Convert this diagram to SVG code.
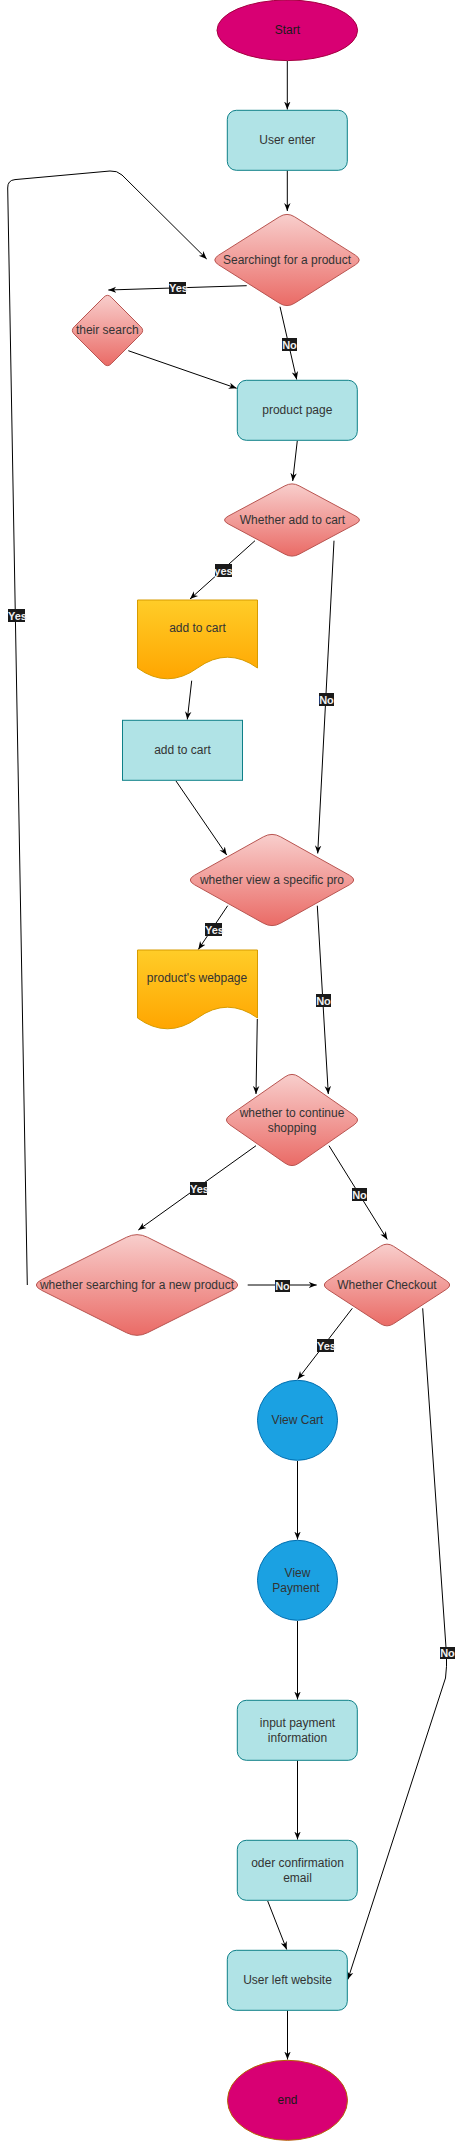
<svg xmlns="http://www.w3.org/2000/svg" xmlns:xlink="http://www.w3.org/1999/xlink" width="459" height="2142" viewBox="0 0 459 2142">
<style>
.t{font-family:"Liberation Sans",Arial,sans-serif;font-size:12px;fill:#333333;text-anchor:middle;dominant-baseline:central}
.td{fill:#1a1a1a}
.lb{fill:#1a1a1a}
.lt{font-family:"Liberation Sans",Arial,sans-serif;font-size:11px;font-weight:bold;fill:#f0f0f0;text-anchor:middle;dominant-baseline:central}
.ln{fill:none;stroke:#000;stroke-width:1}
.arr{marker-end:url(#ah)}
.proc{fill:#b0e3e6;stroke:#0e8088;stroke-width:1}
.doc{fill:url(#gy);stroke:#d79b00;stroke-width:1}
.circ{fill:#1ba1e2;stroke:#006eaf;stroke-width:1}
</style>
<defs>
<linearGradient id="gr" x1="0" y1="0" x2="0" y2="1"><stop offset="0" stop-color="#f8cecc"/><stop offset="1" stop-color="#ea6b66"/></linearGradient>
<linearGradient id="gy" x1="0" y1="0" x2="0" y2="1"><stop offset="0" stop-color="#ffcd28"/><stop offset="1" stop-color="#ffa500"/></linearGradient>
<path id="dia" d="M0.1,-0.9 L0.9,-0.1 Q1,0 0.9,0.1 L0.1,0.9 Q0,1 -0.1,0.9 L-0.9,0.1 Q-1,0 -0.9,-0.1 L-0.1,-0.9 Q0,-1 0.1,-0.9 Z" fill="url(#gr)" stroke="#b85450" stroke-width="1" vector-effect="non-scaling-stroke"/>
<marker id="ah" viewBox="0 0 10 10" refX="10" refY="5" markerWidth="8" markerHeight="8" markerUnits="userSpaceOnUse" orient="auto"><path d="M0,1 L10,5 L0,9 L3,5 Z" fill="#000"/></marker>
</defs>

<g id="connectors">
<path class="ln arr" d="M287.3,61 L287.3,109.5"/>
<path class="ln arr" d="M287.3,170.5 L287.3,211"/>
<path class="ln arr" d="M27.3,1285 L7.7,188 Q7.5,180.3 15,179.6 L110,171 Q117,170.4 122,175 L206.7,259"/>
<path class="ln arr" d="M246.7,285.7 L108.3,290"/>
<path class="ln arr" d="M280,306.7 L296.7,379.5"/>
<path class="ln arr" d="M128.3,350.7 L236.7,388.3"/>
<path class="ln arr" d="M297.3,440.7 L292.7,481"/>
<path class="ln arr" d="M255,540.7 L190,599"/>
<path class="ln arr" d="M334,540.7 L317.7,853.5"/>
<path class="ln arr" d="M191.7,680.7 L187.3,719.5"/>
<path class="ln arr" d="M176,781 L226.7,855"/>
<path class="ln arr" d="M227.7,905.7 L198.3,949.5"/>
<path class="ln arr" d="M317.3,905.7 L328.3,1094"/>
<path class="ln arr" d="M257.3,1019 L256,1094"/>
<path class="ln arr" d="M256,1145.7 L138.3,1230"/>
<path class="ln arr" d="M329,1145.7 L387.3,1239.5"/>
<path class="ln arr" d="M247.7,1285 L316.7,1285"/>
<path class="ln arr" d="M352.3,1308.3 L297.7,1379.3"/>
<path class="ln arr" d="M422.7,1308.3 L446.5,1655 Q447,1666 445.5,1678 L347.8,1979.5"/>
<path class="ln arr" d="M297.5,1461 L297.5,1539.5"/>
<path class="ln arr" d="M297.5,1621 L297.5,1699.5"/>
<path class="ln arr" d="M297.5,1760.5 L297.5,1839.5"/>
<path class="ln arr" d="M267.7,1901 L286.7,1949.5"/>
<path class="ln arr" d="M287.5,2010.5 L287.5,2059.5"/>
<g id="labels">
<rect class="lb" x="8" y="609" width="17" height="13"/><text class="lt" x="17.5" y="615.5">Yes</text>
<rect class="lb" x="169" y="282" width="17" height="12"/><text class="lt" x="178.5" y="288">Yes</text>
<rect class="lb" x="282" y="338" width="15" height="13"/><text class="lt" x="289.5" y="344.5">No</text>
<rect class="lb" x="215" y="564" width="17" height="13"/><text class="lt" x="223.5" y="570.5">yes</text>
<rect class="lb" x="319" y="693" width="15" height="13"/><text class="lt" x="326.5" y="699.5">No</text>
<rect class="lb" x="205" y="923" width="17" height="13"/><text class="lt" x="214.5" y="929.5">Yes</text>
<rect class="lb" x="316" y="994" width="15" height="13"/><text class="lt" x="323.5" y="1000.5">No</text>
<rect class="lb" x="190" y="1182" width="17" height="13"/><text class="lt" x="199.5" y="1188.5">Yes</text>
<rect class="lb" x="352" y="1188" width="15" height="13"/><text class="lt" x="359.5" y="1194.5">No</text>
<rect class="lb" x="275" y="1280" width="15" height="12"/><text class="lt" x="282.5" y="1286">No</text>
<rect class="lb" x="317" y="1339" width="17" height="13"/><text class="lt" x="326.5" y="1345.5">Yes</text>
<rect class="lb" x="440" y="1647" width="15" height="12"/><text class="lt" x="447.5" y="1653">No</text>
</g>
</g>

<g id="start"><ellipse cx="287.3" cy="30.3" rx="70.3" ry="30.3" fill="#d80073" stroke="#a50040"/><text class="t td" x="287.3" y="30">Start</text></g>
<g id="user-enter"><rect class="proc" x="227.3" y="110.3" width="120" height="60" rx="9"/><text class="t" x="287.3" y="140">User enter</text></g>
<g id="searching"><use xlink:href="#dia" transform="translate(287,260) scale(76,48)"/><text class="t" x="287" y="260">Searchingt for a product</text></g>
<g id="their-search"><use xlink:href="#dia" transform="translate(107.5,330.5) scale(37,37)"/><text class="t" x="107.3" y="330">their search</text></g>
<g id="product-page"><rect class="proc" x="237.3" y="380.3" width="120" height="60" rx="9"/><text class="t" x="297.3" y="410">product page</text></g>
<g id="add-to-cart-q"><use xlink:href="#dia" transform="translate(292,520) scale(71,38)"/><text class="t" x="292.5" y="520">Whether add to cart</text></g>
<g id="add-to-cart-doc"><path class="doc" d="M137.5,600 H257.5 V668 Q227.5,646.4 197.5,668 Q167.5,689.6 137.5,668 Z"/><text class="t" x="197.5" y="627.5">add to cart</text></g>
<g id="add-to-cart-rect"><rect class="proc" x="122.5" y="720.3" width="120" height="60"/><text class="t" x="182.5" y="750">add to cart</text></g>
<g id="view-specific"><use xlink:href="#dia" transform="translate(272,880) scale(86,48)"/><text class="t" x="272" y="880">whether view a specific pro</text></g>
<g id="product-webpage"><path class="doc" d="M137.5,950 H257.5 V1018 Q227.5,996.4 197.5,1018 Q167.5,1039.6 137.5,1018 Z"/><text class="t" x="197" y="977.7">product's webpage</text></g>
<g id="continue-shopping"><use xlink:href="#dia" transform="translate(292,1120) scale(69,48)"/><text class="t" x="292" y="1112.7">whether to continue</text><text class="t" x="292" y="1127.5">shopping</text></g>
<g id="new-product"><use xlink:href="#dia" transform="translate(137,1285) scale(106,53)"/><text class="t" x="137" y="1285">whether searching for a new product</text></g>
<g id="checkout"><use xlink:href="#dia" transform="translate(387,1285) scale(66,43)"/><text class="t" x="387" y="1285">Whether Checkout</text></g>
<g id="view-cart"><circle class="circ" cx="297.5" cy="1420.3" r="40"/><text class="t" x="297.5" y="1419.5">View Cart</text></g>
<g id="view-payment"><circle class="circ" cx="297.5" cy="1580.3" r="40"/><text class="t" x="297.5" y="1572.7">View</text><text class="t" x="296" y="1587.7">Payment</text></g>
<g id="input-payment"><rect class="proc" x="237.3" y="1700.3" width="120" height="60" rx="9"/><text class="t" x="297.5" y="1722.7">input payment</text><text class="t" x="297.5" y="1737.7">information</text></g>
<g id="order-email"><rect class="proc" x="237.3" y="1840.3" width="120" height="60" rx="9"/><text class="t" x="297.5" y="1862.7">oder confirmation</text><text class="t" x="297.5" y="1877.7">email</text></g>
<g id="user-left"><rect class="proc" x="227.3" y="1950.3" width="120" height="60" rx="9"/><text class="t" x="287.5" y="1979.5">User left website</text></g>
<g id="end"><ellipse cx="287.5" cy="2100.3" rx="60" ry="40" fill="#d80073" stroke="#b46504"/><text class="t td" x="287.5" y="2100">end</text></g>
</svg>
